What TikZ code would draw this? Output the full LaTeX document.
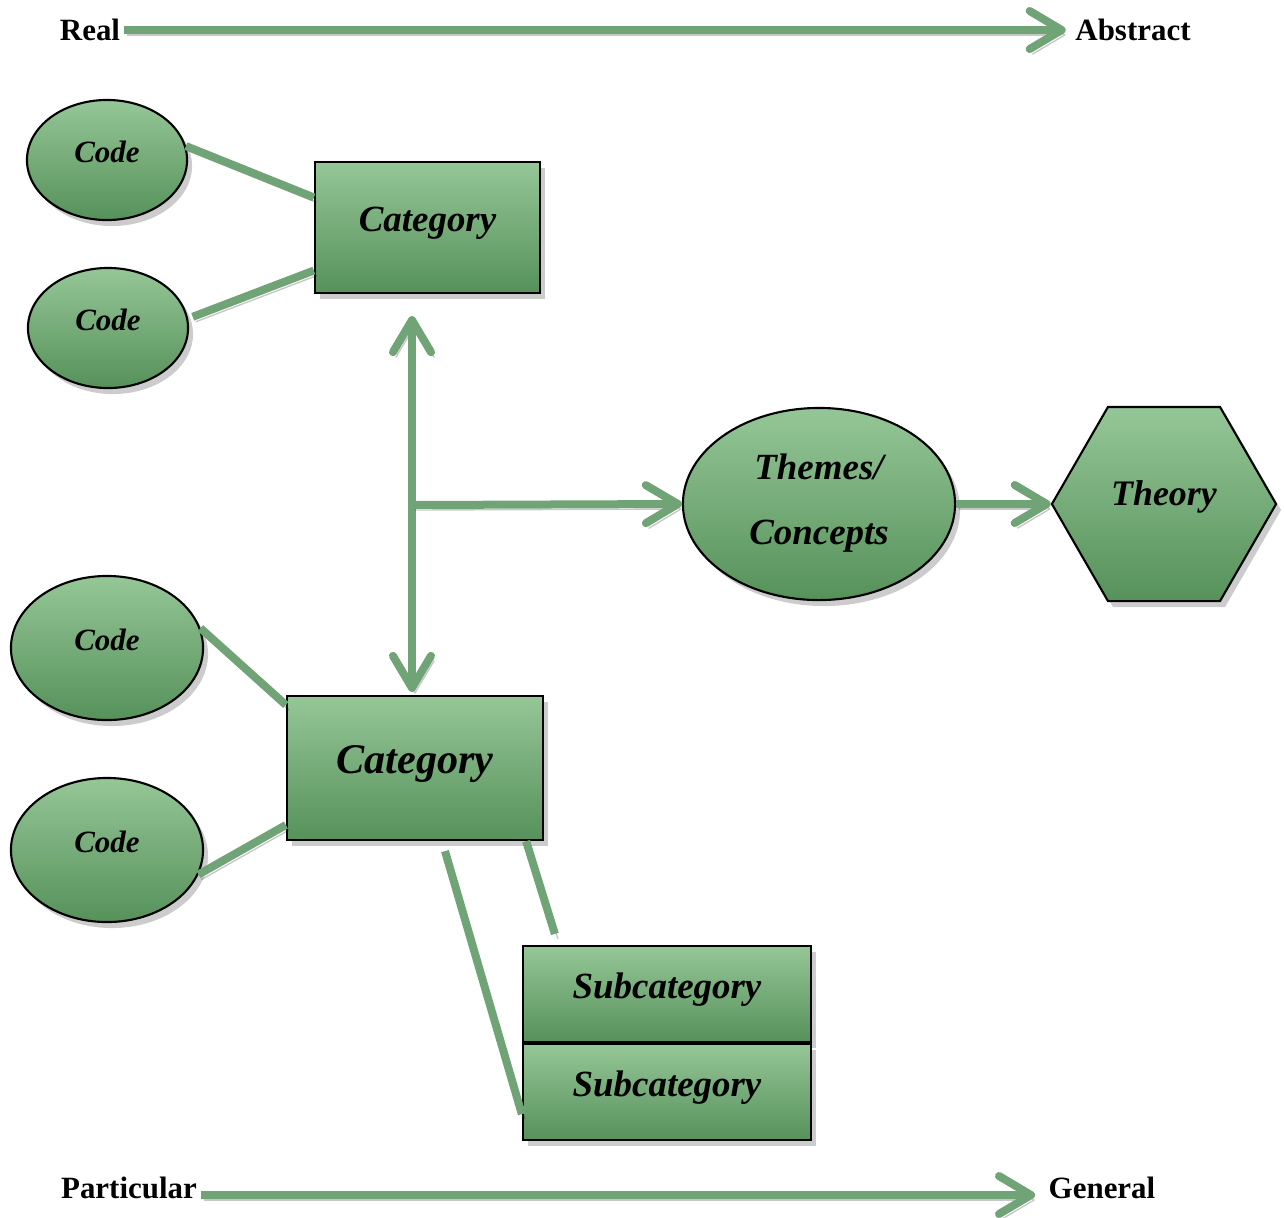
\documentclass[tikz,border=0pt]{standalone}
\usepackage{fontspec}
\setmainfont{Liberation Serif}
\usepackage{xcolor}
\usepackage{tikz}
\usetikzlibrary{
  shapes.geometric, arrows.meta, positioning, calc, shadows
}
\definecolor{linkgreen}{RGB}{112,163,117}
\definecolor{boxtop}{RGB}{149,198,151}
\definecolor{boxbottom}{RGB}{86,145,90}

\begin{document}
\begin{tikzpicture}[
    x=0.01cm, y=-0.01cm,
    font=\bfseries\fontsize{8.8pt}{10.5pt}\selectfont,
    >={Straight Barb[length=0.32cm, width=0.38cm, round]},
    scalelabel/.style={inner sep=0.03cm},
    item/.style={draw=black, line width=0.6pt, top color=boxtop, bottom color=boxbottom, inner sep=0pt, text depth=0.16cm,
        font=\bfseries\itshape\fontsize{#1}{#1}\selectfont,
        drop shadow={shadow xshift=0.05cm, shadow yshift=-0.06cm, opacity=0.4}},
    item/.default=10.5pt,
    box/.style={item=#1, rectangle},
    box/.default=10.5pt,
    code/.style={item=8.8pt, ellipse, minimum width=1.6cm, minimum height=1.2cm},
    link/.style={draw=linkgreen, line width=0.08cm,
        preaction={draw=black, opacity=0.22, transform canvas={shift={(0.03cm,-0.05cm)}}}},
    flow/.style={link, ->},
]
    \useasboundingbox (0,0) rectangle (1284,1217);

    % scale labels
    \node[scalelabel] (real) at (90,30) {Real};
    \node[scalelabel] (abstract) at (1133,30) {Abstract};
    \node[scalelabel] (particular) at (129,1188) {Particular};
    \node[scalelabel] (general) at (1102,1188) {General};
    \draw[flow, shorten >=0.06cm] (real.east) -- (abstract.west);
    \draw[flow, shorten >=0.1cm] ([yshift=-0.07cm]particular.east) -- ([yshift=-0.07cm]general.west);

    % codes and categories
    \node[code] (c1) at (107,160) {Code};
    \node[code] (c2) at (108,328) {Code};
    \node[code, minimum width=1.92cm, minimum height=1.44cm] (c3) at (107,648) {Code};
    \node[code, minimum width=1.92cm, minimum height=1.44cm] (c4) at (107,850) {Code};
    \node[box, minimum width=2.25cm, minimum height=1.31cm] (cat1) at (427.5,227.5) {Category};
    \node[box=12pt, minimum width=2.56cm, minimum height=1.44cm] (cat2) at (415,768) {Category};
    \node[box, minimum width=2.88cm, minimum height=0.96cm] (sub1) at (667,994) {Subcategory};
    \node[box, minimum width=2.88cm, minimum height=0.96cm, below=0pt of sub1] (sub2) {Subcategory};

    \node[item, ellipse, minimum width=2.72cm, minimum height=1.92cm, align=center, text depth=0.1cm] (themes) at (819,504) {Themes/\\[0.28cm]Concepts};
    \node[item=10.2pt, regular polygon, regular polygon sides=6, minimum size=2.24cm, text depth=0.22cm] (theory) at (1164,504) {Theory};

    \coordinate (hub) at (412,505);

    \draw[link] (c1.10) -- ([yshift=0.3cm]cat1.west);
    \draw[link] ([xshift=0.05cm]c2.8) -- ([yshift=-0.43cm]cat1.west);
    \draw[link] (c3.12) -- ([yshift=0.63cm]cat2.west);
    \draw[link] (c4.-15) -- ([yshift=-0.57cm]cat2.west);
    \draw[link] ([shift={(0.3cm,-0.1cm)}]cat2.south) -- ([yshift=-0.22cm]sub2.west);
    \draw[link] ([xshift=-0.18cm]cat2.south east) -- ([shift={(0.33cm,0.11cm)}]sub1.north west);

    % arrows between levels
    \draw[flow, <->, shorten <=0.22cm, shorten >=0.03cm] (hub |- cat1.south) -- (hub |- cat2.north);
    \draw[flow] (hub) -- (themes.west);
    \draw[flow] (themes.east) -- (theory.west);
\end{tikzpicture}
\end{document}
